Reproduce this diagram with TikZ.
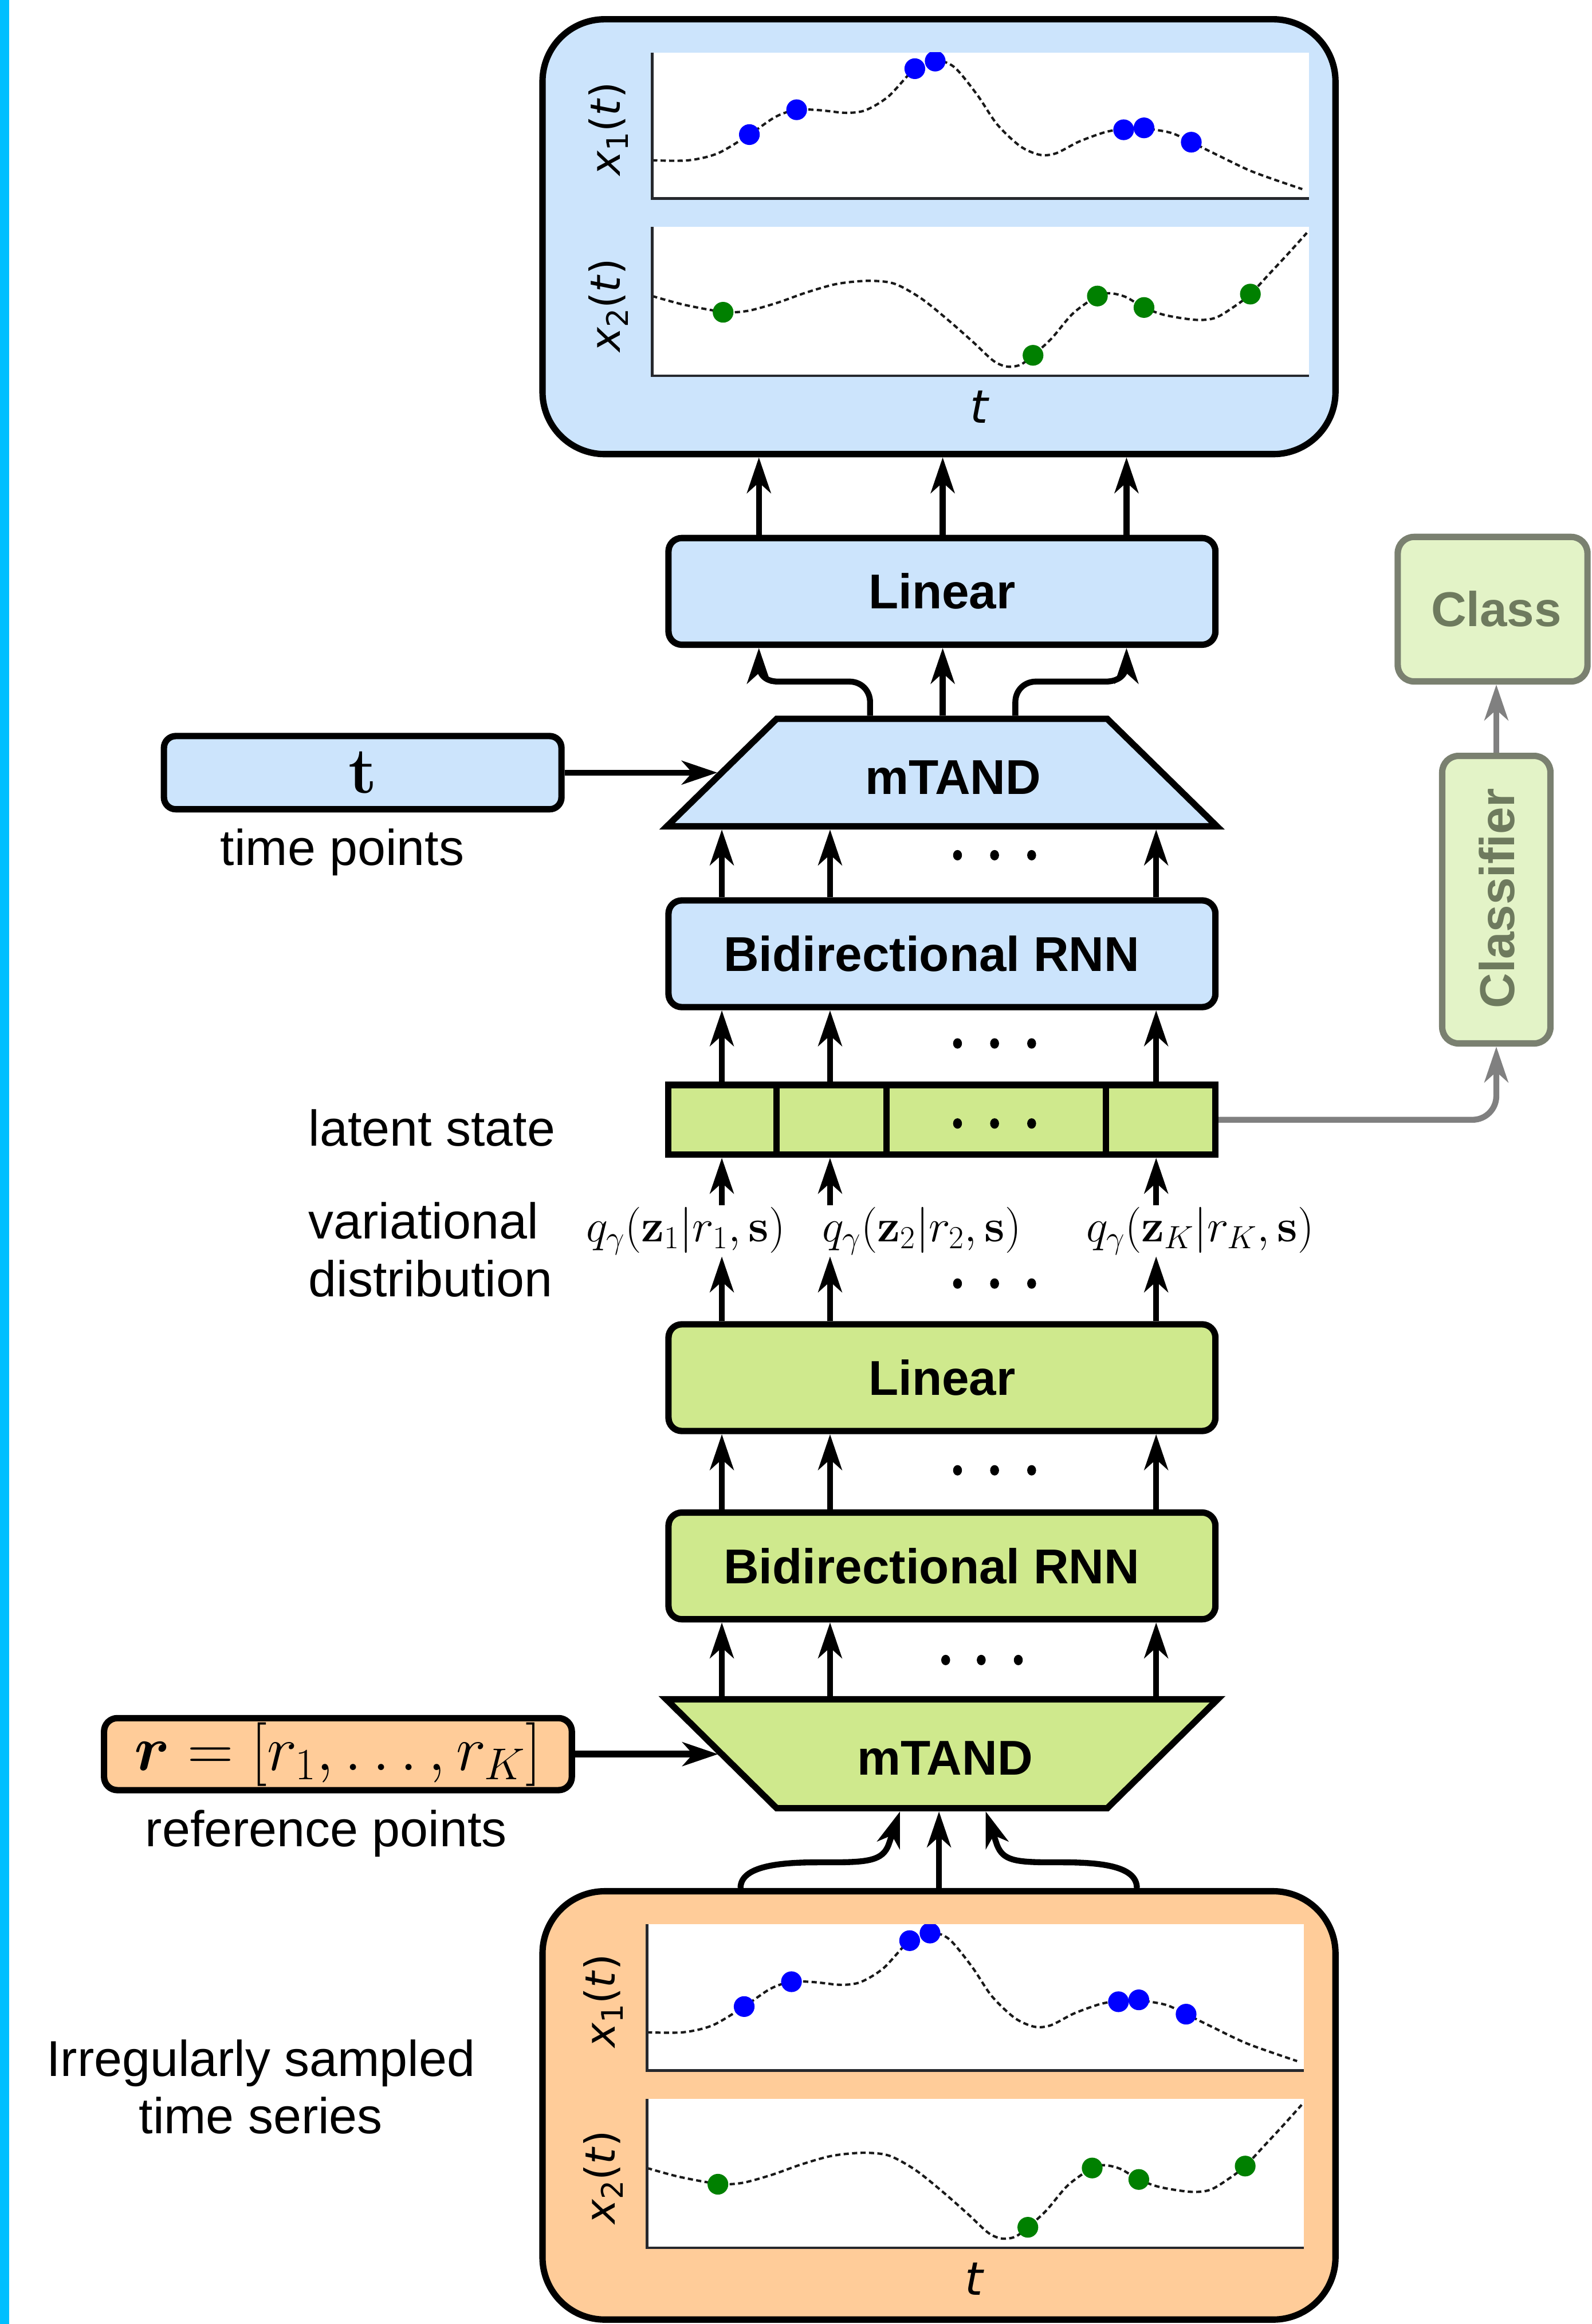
\RequirePackage{fix-cm}
\documentclass[tikz,border=0pt]{standalone}
\usepackage{amsmath}
\usepackage{bm}
\usepackage[no-math]{fontspec}
\setmainfont{Liberation Sans}
\newfontfamily\djv{DejaVu Sans}[ItalicFont={DejaVu Sans Oblique}]
\usetikzlibrary{arrows.meta}

\definecolor{bluefill}{RGB}{204,228,252}
\definecolor{greenfill}{RGB}{207,233,141}
\definecolor{orangefill}{RGB}{255,204,153}
\definecolor{clsfill}{RGB}{227,243,199}
\definecolor{clsdraw}{RGB}{122,128,112}
\definecolor{clstext}{RGB}{110,122,94}
\definecolor{grayline}{RGB}{128,128,128}
\definecolor{barcyan}{RGB}{0,191,255}
\definecolor{dotblue}{RGB}{0,0,255}
\definecolor{dotgreen}{RGB}{0,128,0}
\definecolor{axiscol}{RGB}{38,40,45}

\newcommand{\tsxlab}[1]{\textit{x}\raisebox{-0.2em}{\fontsize{20}{24}\selectfont #1}(\textit{t})}

\tikzset{
  blk/.style={draw=black, line width=4.3pt, rounded corners=9pt, minimum width=369pt, minimum height=72pt, inner sep=0pt, font=\fontsize{33}{40}\selectfont\bfseries},
  bluebox/.style={blk, fill=bluefill},
  greenbox/.style={blk, fill=greenfill},
  bigbox/.style={draw=black, line width=4.3pt, rounded corners=42pt, minimum width=535pt, minimum height=293.4pt, inner sep=0pt},
  trap/.style={draw=black, line width=4.3pt},
  latcell/.style={draw=black, line width=4.3pt, fill=greenfill, minimum width=369pt, minimum height=47pt, inner sep=0pt},
  arr/.style={draw=black, line width=4pt, -{Stealth[length=24pt,width=16pt,inset=7pt]}},
  garr/.style={draw=grayline, line width=4pt, -{Stealth[length=24pt,width=16pt,inset=7pt]}},
  lbl/.style={font=\fontsize{34}{39}\selectfont, inner sep=0pt},
  qlbl/.style={font=\fontsize{31}{37}\selectfont, inner sep=0pt, minimum height=34pt},
  boldlbl/.style={font=\fontsize{33}{40}\selectfont\bfseries, inner sep=0pt},
  axlbl/.style={font=\djv\fontsize{28}{34}\selectfont, inner sep=0pt},
  tscurve/.style={draw=black!90, line width=1.6pt, dash pattern=on 3.5pt off 2.2pt},
  axisline/.style={draw=axiscol, line width=1.8pt},
  clsbox/.style={draw=clsdraw, line width=4.3pt, fill=clsfill, rounded corners=11pt, inner sep=0pt, text=clstext, font=\fontsize{33}{40}\selectfont\bfseries},
  tspanel/.pic={
    \begin{scope}[shift={(440,134)}, x=443pt, y=98.6pt]
      \fill[white] (0,0) rectangle (1,1);
      \begin{scope}
        \clip (0,0) rectangle (1,1);
        \draw[tscurve] plot[smooth, tension=0.5] coordinates {(0,.262) (.055,.262) (.1,.31) (.148,.438) (.188,.56) (.22,.608) (.255,.605) (.295,.587) (.325,.605) (.36,.7) (.4,.889) (.431,.945) (.46,.9) (.495,.71) (.525,.51) (.56,.36) (.59,.3) (.615,.31) (.65,.39) (.69,.455) (.718,.475) (.749,.48) (.79,.45) (.821,.386) (.86,.3) (.915,.183) (.99,.065)};
        \foreach \pu/\pv in {.148/.438, .22/.608, .4/.889, .431/.941, .718/.471, .749/.484, .821/.386}
          {\fill[dotblue] (\pu,\pv) circle[radius=7pt];}
      \end{scope}
      \draw[axisline] (0,1) -- (0,0) -- (1,0);
    \end{scope}
    \begin{scope}[shift={(440,253.6)}, x=443pt, y=100.5pt]
      \fill[white] (0,0) rectangle (1,1);
      \begin{scope}
        \clip (0,0) rectangle (1,1);
        \draw[tscurve] plot[smooth, tension=0.5] coordinates {(0,.536) (.048,.478) (.108,.43) (.145,.436) (.19,.49) (.235,.56) (.281,.617) (.328,.638) (.368,.62) (.408,.525) (.448,.385) (.488,.23) (.52,.1) (.541,.062) (.561,.075) (.58,.138) (.608,.25) (.641,.42) (.678,.536) (.697,.555) (.721,.53) (.749,.459) (.781,.408) (.828,.376) (.858,.39) (.888,.47) (.911,.549) (.941,.69) (.968,.818) (.997,.96)};
        \foreach \pu/\pv in {.108/.427, .58/.138, .678/.536, .749/.459, .911/.549}
          {\fill[dotgreen] (\pu,\pv) circle[radius=7pt];}
      \end{scope}
      \draw[axisline] (0,1) -- (0,0) -- (1,0);
    \end{scope}
    \node[axlbl, rotate=90] (-xa) at (410.5,87) {\tsxlab{1}};
    \node[axlbl, rotate=90] (-xb) at (410.5,206) {\tsxlab{2}};
    \node[axlbl, font=\djv\fontsize{31}{36}\selectfont] (-tl) at (661,274.5) {\textit{t}};
  }
}

\begin{document}
\begin{tikzpicture}[x=1pt, y=-1pt]
\useasboundingbox (0,0) rectangle (1074,1568);
\fill[barcyan] (0,0) rectangle (6.2,1568);

% column coordinates
\coordinate (c1) at (487,0);
\coordinate (c2) at (560,0);
\coordinate (c3) at (780,0);
\coordinate (o1) at (512,0);
\coordinate (o2) at (636,0);
\coordinate (o3) at (760,0);
\coordinate (u1) at (587,0);
\coordinate (u3) at (685,0);
\coordinate (d1) at (499.6,0);
\coordinate (d3) at (767,0);
\coordinate (b2) at (633.5,0);
\coordinate (e1) at (607.2,0);
\coordinate (e3) at (665,0);
\coordinate (dv1) at (524,0);
\coordinate (dv2) at (598,0);
\coordinate (dv3) at (746,0);

% big panels
\node[bigbox, fill=bluefill] (outbox) at (633.5,159.7) {};
\node[bigbox, fill=orangefill, minimum height=289pt] (inbox) at (633.5,1420.5) {};
\pic (toppan) at (0,0) {tspanel};
\pic (botpan) at (-3.5,1263) {tspanel};

% blue decoder
\node[bluebox] (lin1) at (635.5,399) {Linear};
\coordinate (mt1a) at (524,485);
\coordinate (mt1b) at (747,485);
\coordinate (mt1c) at (821,557.5);
\coordinate (mt1d) at (450,557.5);
\draw[trap, fill=bluefill] (mt1a) -- (mt1b) -- (mt1c) -- (mt1d) -- cycle;
\node[boldlbl] (mt1) at (643,524.5) {mTAND};
\coordinate (mt1N) at (635.5,482.85);
\coordinate (mt1S) at (635.5,559.65);
\coordinate (mt1L) at (484,521.3);
\node[bluebox] (rnn1) at (635.5,643.5) {Bidirectional RNN\hspace*{14pt}};

% latent state
\node[latcell] (lat) at (635.5,755.5) {};
\foreach \d in {dv1,dv2,dv3} {\draw[line width=4.3pt] (lat.north -| \d) -- (lat.south -| \d);}

% green encoder
\node[greenbox] (lin2) at (635.5,929.5) {Linear};
\node[greenbox] (rnn2) at (635.5,1056.5) {Bidirectional RNN\hspace*{14pt}};
\coordinate (mt2a) at (449.5,1146.5);
\coordinate (mt2b) at (821.5,1146.5);
\coordinate (mt2c) at (747,1220);
\coordinate (mt2d) at (524,1220);
\draw[trap, fill=greenfill] (mt2a) -- (mt2b) -- (mt2c) -- (mt2d) -- cycle;
\node[boldlbl] (mt2) at (637.5,1186) {mTAND};
\coordinate (mt2N) at (635.5,1144.35);
\coordinate (mt2S) at (635.5,1222.15);
\coordinate (mt2L) at (484.5,1183.5);

% inputs
\node[bluebox, minimum width=268.2pt, minimum height=49.4pt, rounded corners=8pt, font=\fontsize{44}{50}\selectfont] (tb) at (244.7,521.3) {$\mathbf{t}$};
\node[blk, fill=orangefill, minimum width=315.6pt, minimum height=48.6pt, font=\fontsize{43}{50}\selectfont] (rb) at (228,1183.5) {$\bm{r}=\left[r_1,\ldots,r_K\right]$};

% text labels
\node[lbl, anchor=base] (tplbl) at (231,583.8) {time points};
\node[lbl, anchor=base] (rplbl) at (220,1246) {reference points};
\node[lbl, anchor=base west] (latlbl) at (208,773) {latent state};
\node[lbl, anchor=west, align=left] (varlbl) at (208,843) {variational\\distribution};
\node[lbl, align=center] (tslbl) at (176,1408) {Irregularly sampled\\time series};

% variational distribution labels
\node[qlbl] (q1) at (462.6,830.5) {$q_\gamma(\mathbf{z}_1|r_1,\mathbf{s})$};
\node[qlbl] (q2) at (622,830.5) {$q_\gamma(\mathbf{z}_2|r_2,\mathbf{s})$};
\node[qlbl] (q3) at (809.8,830.5) {$q_\gamma(\mathbf{z}_K|r_K,\mathbf{s})$};

% ellipsis dots
\foreach \yy in {577,704,758,866,992} {
  \foreach \xx in {646,671,696} {\fill (\xx,\yy) ellipse[x radius=3pt, y radius=3.5pt];}
}
\foreach \xx in {638,662,687} {\fill (\xx,1120) ellipse[x radius=3pt, y radius=3.5pt];}

% classifier branch
\node[clsbox, minimum width=73pt, minimum height=194pt] (clf) at (1009.5,607) {};
\node[text=clstext, font=\fontsize{33}{40}\selectfont\bfseries, rotate=90, inner sep=0pt] (clftxt) at (1009.7,606) {Classifier};
\node[clsbox, minimum width=128pt, minimum height=97.5pt] (cls) at (1007,411) {\hspace*{5pt}Class};
\draw[garr, rounded corners=16pt] (lat.east) -| (clf.south);
\draw[garr] (clf.north) -- (cls.south -| clf.north);

% arrows: decoder output
\foreach \c in {o1,o2,o3} {\draw[arr] (lin1.north -| \c) -- (outbox.south -| \c);}
\draw[arr] (mt1N -| o2) -- (lin1.south -| o2);
\draw[arr] (mt1N -| u1) -- ++(0,-9) .. controls +(0,-8) and +(8,0) .. ++(-14,-14) -- ++(-48,0) .. controls +(-8,0) and +(0,8) .. ++(-13,-12) -- (lin1.south -| o1);
\draw[arr] (mt1N -| u3) -- ++(0,-9) .. controls +(0,-8) and +(-8,0) .. ++(14,-14) -- ++(47,0) .. controls +(8,0) and +(0,8) .. ++(14,-12) -- (lin1.south -| o3);
\draw[arr] (tb.east) -- (mt1L);

% arrows: stacks
\foreach \c in {c1,c2,c3} {
  \draw[arr] (rnn1.north -| \c) -- (mt1S -| \c);
  \draw[arr] (lat.north -| \c) -- (rnn1.south -| \c);
  \draw[arr] (rnn2.north -| \c) -- (lin2.south -| \c);
  \draw[arr] (mt2N -| \c) -- (rnn2.south -| \c);
}
\draw[arr] (q1.north -| c1) -- (lat.south -| c1);
\draw[arr] (q2.north -| c2) -- (lat.south -| c2);
\draw[arr] (q3.north -| c3) -- (lat.south -| c3);
\draw[arr] (lin2.north -| c1) -- (q1.south -| c1);
\draw[arr] (lin2.north -| c2) -- (q2.south -| c2);
\draw[arr] (lin2.north -| c3) -- (q3.south -| c3);

% arrows: encoder input
\draw[arr, line width=4.5pt] (rb.east) -- (mt2L);
\draw[arr] (inbox.north -| b2) -- (mt2S -| b2);
\draw[arr] (inbox.north -| d1) .. controls +(0,-15) and +(-25,0) .. ++(52,-17.35) -- ++(10,0) .. controls +(25,0) and +(-4,10) .. ++(37.8,-11.6) -- (mt2S -| e1);
\draw[arr] (inbox.north -| d3) .. controls +(0,-15) and +(25,0) .. ++(-50,-17.35) -- ++(-8,0) .. controls +(-25,0) and +(4,10) .. ++(-36.3,-11.6) -- (mt2S -| e3);
\end{tikzpicture}
\end{document}
